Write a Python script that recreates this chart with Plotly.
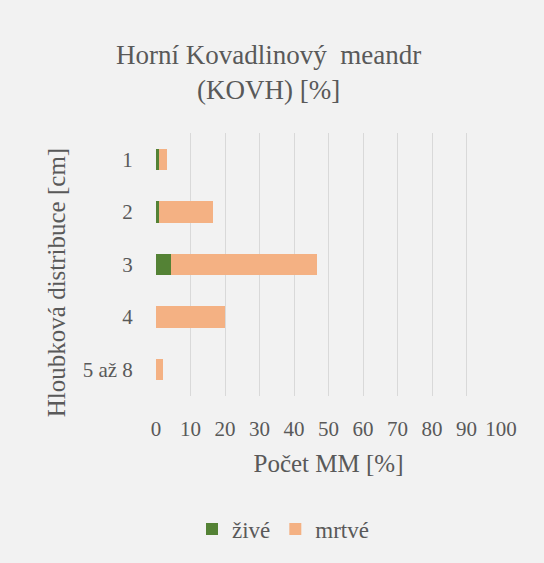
import plotly.graph_objects as go

# hloubkové třídy a podíly MM [%]
hloubky = ['1', '2', '3', '4', '5 až 8']
zive = [0.9, 1.0, 4.4, 0.0, 0.0]
mrtve = [2.3, 15.5, 42.3, 20.0, 2.0]
x_ticks = [0, 10, 20, 30, 40, 50, 60, 70, 80, 90, 100]

W, H = 544, 563
L, R, T, B = 156, 43, 133, 163
pw, ph = W - L - R, H - T - B

def px_x(px):
    return (px - L) / pw

def px_y(py):
    return (H - B - py) / ph

font = 'Liberation Serif, Times New Roman, serif'
gray = '#595959'

fig = go.Figure()
fig.add_trace(go.Bar(y=hloubky, x=zive, name='živé', orientation='h',
                     marker=dict(color='#548235', line=dict(width=0))))
fig.add_trace(go.Bar(y=hloubky, x=mrtve, name='mrtvé', orientation='h',
                     marker=dict(color='#F4B183', line=dict(width=0))))

fig.update_layout(
    width=W, height=H,
    margin=dict(l=L, r=R, t=T, b=B),
    barmode='stack',
    bargap=0.59,
    paper_bgcolor='#F2F2F2',
    plot_bgcolor='#F2F2F2',
    font=dict(family=font, color=gray, size=21),
    legend=dict(orientation='h', x=px_x(283), xanchor='center',
                y=px_y(535), yanchor='middle',
                font=dict(size=23), bgcolor='rgba(0,0,0,0)',
                itemwidth=30, traceorder='normal'),
    showlegend=True,
)

fig.update_xaxes(range=[0, 100], tickvals=x_ticks, showgrid=True,
                 gridcolor='#D9D9D9', gridwidth=1, zeroline=False,
                 showline=False, ticks='outside', ticklen=14,
                 tickcolor='rgba(0,0,0,0)', automargin=False,
                 title=dict(text='Počet MM [%]', standoff=14, font=dict(size=25)))
fig.update_yaxes(autorange='reversed', showgrid=False, zeroline=False,
                 showline=False, ticks='outside', ticklen=18,
                 tickcolor='rgba(0,0,0,0)', automargin=False)

# nadpis
fig.add_annotation(text='Horní Kovadlinový  meandr<br>(KOVH) [%]',
                   x=px_x(268), y=px_y(37), xref='paper', yref='paper',
                   xanchor='center', yanchor='top', showarrow=False,
                   font=dict(size=27))

# popis osy y
fig.add_annotation(text='Hloubková distribuce [cm]', textangle=-90,
                   x=px_x(56), y=px_y(285.5), xref='paper', yref='paper',
                   xanchor='center', yanchor='middle',
                   showarrow=False, font=dict(size=25))

fig.write_html('out.html', config={'displayModeBar': False},
               post_script="document.body.style.margin='0';")
